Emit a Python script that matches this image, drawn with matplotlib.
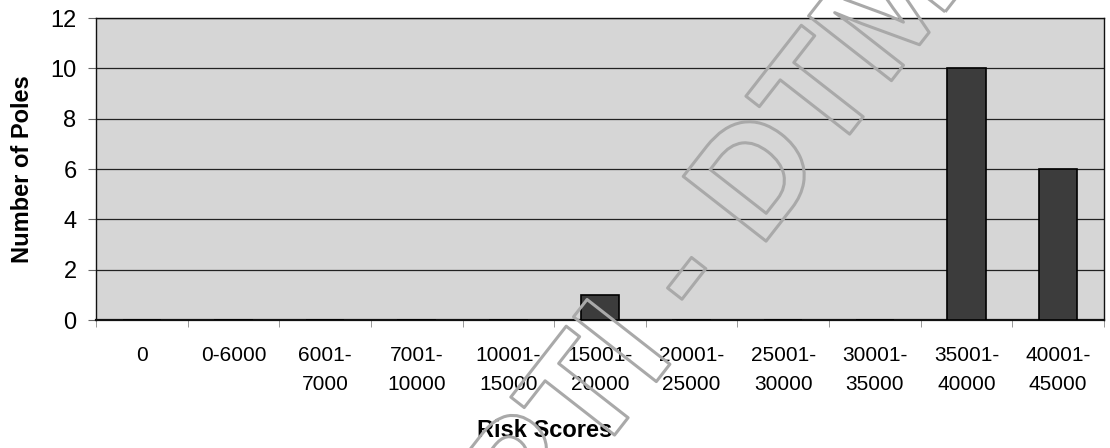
import numpy as np
import matplotlib.pyplot as plt
import matplotlib.patheffects as pe

plt.rcParams['font.family'] = ['Liberation Sans', 'DejaVu Sans']

# Pole counts per risk-score band
bands = ['0', '0-6000', '6001-\n7000', '7001-\n10000', '10001-\n15000', '15001-\n20000',
         '20001-\n25000', '25001-\n30000', '30001-\n35000', '35001-\n40000', '40001-\n45000']
poles = [0, 0, 0, 0, 0, 1, 0, 0, 0, 10, 6]
y_ticks = [0, 2, 4, 6, 8, 10, 12]

fig = plt.figure(figsize=(11.1, 4.48), dpi=100)
ax = fig.add_axes([0.0865, 0.2857, 0.908, 0.6741])

x = np.arange(len(bands))
ax.bar(x, poles, width=0.42, color='#3c3c3c', edgecolor='black', linewidth=1.2, zorder=3)

ax.set_facecolor('#d6d6d6')
ax.set_xlim(-0.5, len(bands) - 0.5)
ax.set_ylim(0, 12)
ax.set_yticks(y_ticks)
ax.yaxis.grid(True, color='#222222', linewidth=0.9, zorder=1)
ax.set_axisbelow(True)

# labels centred on bars, tick marks on band boundaries
ax.set_xticks(x)
ax.set_xticklabels(bands, fontsize=15, linespacing=1.65, va='top')
ax.set_xticks(np.arange(len(bands) + 1) - 0.5, minor=True)
ax.tick_params(axis='x', which='major', length=0, pad=19)
ax.tick_params(axis='x', which='minor', length=5, color='#888888')
ax.tick_params(axis='y', length=6, color='#666666', labelsize=17, pad=8)

for s in ax.spines.values():
    s.set_color('#111111')
    s.set_linewidth(1.0)
ax.spines['bottom'].set_linewidth(1.6)

ax.set_ylabel('Number of Poles', fontsize=17, fontweight='bold', labelpad=12)
fig.text(0.491, 0.04, 'Risk Scores', fontsize=17, fontweight='bold', ha='center', va='center')

# outlined diagonal stamp
fig.text(0.645, 0.46, 'PTI - DTM', fontsize=110, fontweight='bold', rotation=52,
         ha='center', va='center', color='none',
         path_effects=[pe.Stroke(linewidth=2.2, foreground='#a9a9a9')], zorder=10)

fig.savefig('out.png', dpi=100)
